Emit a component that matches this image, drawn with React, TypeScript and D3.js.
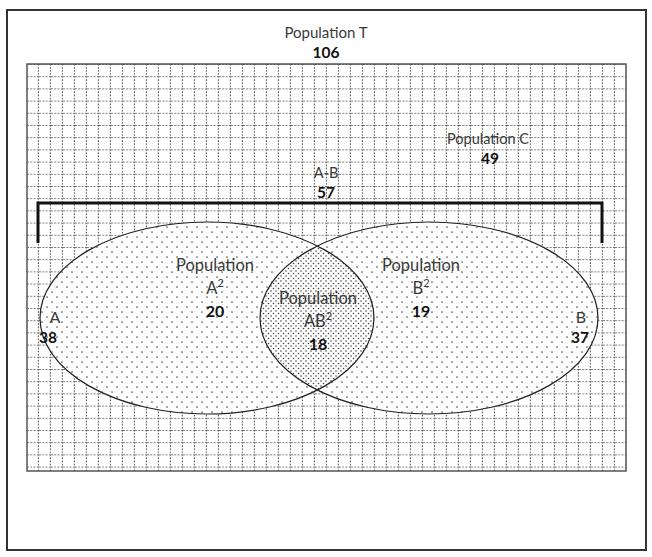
import React from "react";
import * as d3 from "d3";

// ---- data ----
const regionNames = ["Population T", "Population C", "A-B", "A²", "B²", "AB²", "A", "B"];
const regionValues = [106, 49, 57, 20, 19, 18, 38, 37];

const W = 652;
const H = 557;

// layout scale (abstract units -> pixels)
const x = d3.scaleLinear().domain([0, 100]).range([0, W]);

const FONT = "Lato, 'Open Sans', sans-serif";
const TXT = "#3a3a3a";

export default function App() {
  const outer = { x0: 7, y0: 10, x1: 646, y1: 550 };
  const grid = { x0: 27, y0: 64, x1: 626, y1: 471 };
  const eA = { cx: 207, cy: 318, rx: 167, ry: 96 };
  const eB = { cx: 429, cy: 318, rx: 169, ry: 96 };
  const bracket = { x0: 38, x1: 602, y: 203, y2: 243 };

  const v = (name: string) => regionValues[regionNames.indexOf(name)];

  const label = (tx: number, ty: number, t: string, size = 14.5, bold = false, fill = TXT) => (
    <text x={tx} y={ty} fontFamily={FONT} fontSize={size} fontWeight={bold ? 700 : 400} textAnchor="middle" fill={fill}>
      {t}
    </text>
  );
  const num = (tx: number, ty: number, n: number, size = 15.5) => label(tx, ty, String(n), size, true, "#111");

  const sup = (tx: number, ty: number, base: string) => (
    <text x={tx} y={ty} fontFamily={FONT} fontSize={16.5} textAnchor="middle" fill={TXT}>
      {base}
      <tspan fontSize={11} dy={-7}>2</tspan>
    </text>
  );

  return (
    <svg width={W} height={H} style={{ position: "absolute", left: 0, top: 0, background: "#fff" }}>
      <defs>
        <pattern id="grid" x={grid.x0} y={grid.y0} width={12} height={12.2} patternUnits="userSpaceOnUse">
          <rect width={12} height={12.2} fill="#fff" />
          <line x1={0} y1={0.5} x2={12} y2={0.5} stroke="#7a7a7a" strokeWidth={1} strokeDasharray="2,1.3" />
          <line x1={11.5} y1={0} x2={11.5} y2={12.2} stroke="#5a5a5a" strokeWidth={1.3} strokeDasharray="1.5,1.6" />
        </pattern>
        <pattern id="sparse" width={10} height={10} patternUnits="userSpaceOnUse">
          <rect width={10} height={10} fill="#fff" />
          <circle cx={2} cy={2} r={0.85} fill="#555" />
          <circle cx={7} cy={7} r={0.85} fill="#555" />
        </pattern>
        <pattern id="dense" width={5} height={5} patternUnits="userSpaceOnUse">
          <rect width={5} height={5} fill="#fff" />
          <circle cx={1} cy={1} r={0.8} fill="#444" />
          <circle cx={3.5} cy={3.5} r={0.8} fill="#444" />
        </pattern>
        <clipPath id="clipA">
          <ellipse cx={eA.cx} cy={eA.cy} rx={eA.rx} ry={eA.ry} />
        </clipPath>
      </defs>

      {/* outer frame */}
      <rect x={outer.x0} y={outer.y0} width={outer.x1 - outer.x0} height={outer.y1 - outer.y0}
        fill="#fff" stroke="#333" strokeWidth={2} />

      {/* universe T grid */}
      <rect x={grid.x0} y={grid.y0} width={grid.x1 - grid.x0} height={grid.y1 - grid.y0}
        fill="url(#grid)" stroke="#555" strokeWidth={1.5} />

      {/* ellipses */}
      <ellipse cx={eA.cx} cy={eA.cy} rx={eA.rx} ry={eA.ry} fill="url(#sparse)" />
      <ellipse cx={eB.cx} cy={eB.cy} rx={eB.rx} ry={eB.ry} fill="url(#sparse)" />
      <ellipse cx={eB.cx} cy={eB.cy} rx={eB.rx} ry={eB.ry} fill="url(#dense)" clipPath="url(#clipA)" />
      <ellipse cx={eA.cx} cy={eA.cy} rx={eA.rx} ry={eA.ry} fill="none" stroke="#222" strokeWidth={1.2} />
      <ellipse cx={eB.cx} cy={eB.cy} rx={eB.rx} ry={eB.ry} fill="none" stroke="#222" strokeWidth={1.2} />

      {/* bracket A-B */}
      <path d={`M${bracket.x0},${bracket.y2}V${bracket.y}H${bracket.x1}V${bracket.y2}`} fill="none" stroke="#111" strokeWidth={3} />

      {/* labels */}
      {label(x(50), 38, regionNames[0], 15)}
      {num(x(50), 58, v("Population T"))}

      {label(488, 144, regionNames[1], 14.5)}
      {num(490, 164, v("Population C"))}

      {label(326, 178, regionNames[2], 14.5)}
      {num(326, 198, v("A-B"))}

      {label(215, 271, "Population", 16.5)}
      {sup(215, 294, "A")}
      {num(215, 317, v("A²"), 16)}

      {label(421, 271, "Population", 16.5)}
      {sup(421, 294, "B")}
      {num(421, 317, v("B²"), 16)}

      {label(318, 304, "Population", 16.5)}
      {sup(318, 327, "AB")}
      {num(318, 350, v("AB²"), 16)}

      {label(55, 323, regionNames[6], 16)}
      {num(48, 343, v("A"))}

      {label(581, 323, regionNames[7], 16)}
      {num(580, 343, v("B"))}
    </svg>
  );
}
